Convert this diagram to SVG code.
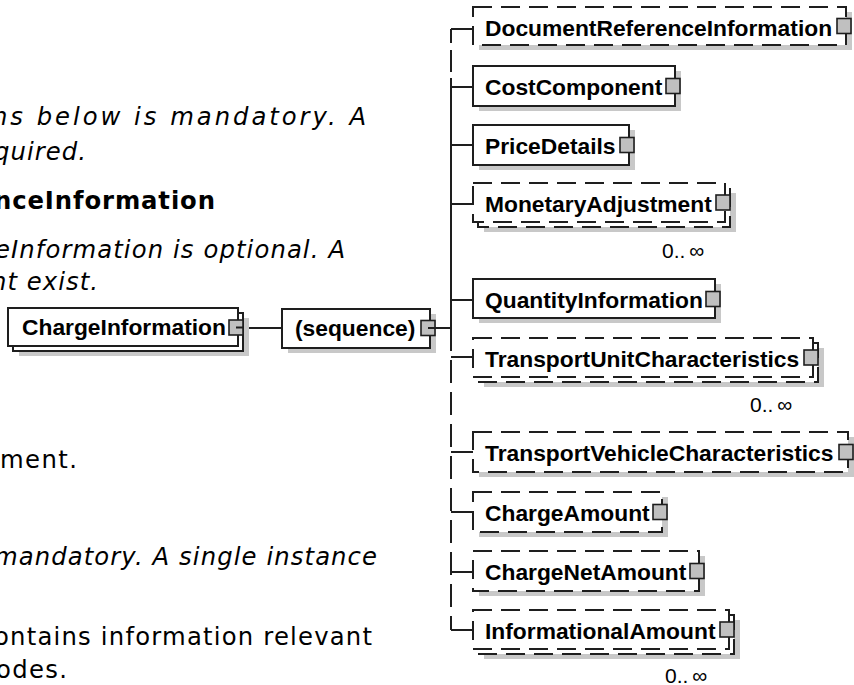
<svg xmlns="http://www.w3.org/2000/svg" width="854" height="685" viewBox="0 0 854 685">
<style>
.bg{fill:#fff}
.box{fill:#fff;stroke:#1e1e1e;stroke-width:2}
.dash{stroke-dasharray:19 9}
.shd{fill:#c8c8c8}
.sq{fill:#c0c0c0;stroke:#1e1e1e;stroke-width:1.6}
.lbl{font-family:"Liberation Sans",Arial,sans-serif;font-weight:bold;font-size:22.8px;fill:#000}
.card{font-family:"Liberation Sans",Arial,sans-serif;font-size:21px;fill:#000}
.body{font-family:"DejaVu Sans",Verdana,sans-serif;font-size:24.3px;fill:#000}
.it{font-style:italic}
.bd{font-weight:bold}
.con{fill:none;stroke:#1e1e1e;stroke-width:2}
</style>
<rect class="bg" x="0" y="0" width="854" height="685"/>
<g id="text">
<text class="body it" x="-8" y="125" textLength="374" lengthAdjust="spacing">ns below is mandatory. A</text>
<text class="body it" x="-6" y="160" textLength="92" lengthAdjust="spacing">quired.</text>
<text class="body bd" x="-6" y="209" textLength="221" lengthAdjust="spacing">nceInformation</text>
<text class="body it" x="-5" y="258" textLength="350" lengthAdjust="spacing">eInformation is optional. A</text>
<text class="body it" x="-9" y="290" textLength="107" lengthAdjust="spacing">nt exist.</text>
<text class="body" x="0" y="468" textLength="77" lengthAdjust="spacing">ment.</text>
<text class="body it" x="-6" y="565" textLength="383" lengthAdjust="spacing">mandatory. A single instance</text>
<text class="body" x="-6" y="645" textLength="378" lengthAdjust="spacing">ontains information relevant</text>
<text class="body" x="-4" y="678" textLength="71" lengthAdjust="spacing">odes.</text>
</g>
<g id="connectors">
<path class="con" d="M236 328H282M428 328H451"/>
<path class="con" d="M451 29V43M451 50V72M451 78V328"/>
<path class="con" d="M451 328V630" stroke-dasharray="23 9"/>
<path class="con" d="M451 29H473M451 87H473M451 145H473M451 204H473M451 300H473M451 357H473M451 452H473M451 512H473M451 572H473M451 630H473"/>
</g>
<g id="ChargeInformation">
<rect class="shd" x="19" y="318" width="230" height="38"/>
<rect class="box" x="13" y="313" width="230" height="38"/>
<rect class="box" x="8" y="308" width="230" height="38"/>
<text class="lbl" x="22" y="335">ChargeInformation</text>
<rect class="sq" x="229" y="320" width="14" height="15"/>
<path class="con" d="M236 327.5H244"/>
</g>
<g id="sequence">
<rect class="shd" x="288" y="314" width="148" height="39"/>
<rect class="box" x="282" y="309" width="148" height="39"/>
<text class="lbl" x="295" y="336">(sequence)</text>
<rect class="sq" x="421" y="320.5" width="14" height="15"/>
<path class="con" d="M428 328H436"/>
</g>
<g id="DocumentReferenceInformation">
<rect class="shd" x="479" y="12" width="373" height="38"/>
<rect class="box dash" x="473" y="7" width="373" height="38"/>
<text class="lbl" x="485" y="36">DocumentReferenceInformation</text>
<rect class="sq" x="837" y="18.5" width="14" height="15"/>
</g>
<g id="CostComponent">
<rect class="shd" x="479" y="71" width="202" height="40"/>
<rect class="box" x="473" y="66" width="202" height="40"/>
<text class="lbl" x="485" y="95">CostComponent</text>
<rect class="sq" x="666" y="78.5" width="14" height="15"/>
</g>
<g id="PriceDetails">
<rect class="shd" x="479" y="130" width="156" height="40"/>
<rect class="box" x="473" y="125" width="156" height="40"/>
<text class="lbl" x="485" y="154">PriceDetails</text>
<rect class="sq" x="620" y="137.5" width="14" height="15"/>
</g>
<g id="MonetaryAdjustment">
<rect class="shd" x="484" y="193" width="252" height="39"/>
<rect class="box dash" x="478" y="188" width="252" height="39"/>
<rect class="box dash" x="473" y="183" width="252" height="39"/>
<text class="lbl" x="485" y="212">MonetaryAdjustment</text>
<rect class="sq" x="716" y="195" width="14" height="15"/>
<text class="card" x="662" y="258">0..<tspan dx="4">∞</tspan></text>
</g>
<g id="QuantityInformation">
<rect class="shd" x="479" y="284" width="242" height="39"/>
<rect class="box" x="473" y="279" width="242" height="39"/>
<text class="lbl" x="485" y="308">QuantityInformation</text>
<rect class="sq" x="706" y="291.5" width="14" height="15"/>
</g>
<g id="TransportUnitCharacteristics">
<rect class="shd" x="484" y="348" width="340" height="39"/>
<rect class="box dash" x="478" y="343" width="340" height="39"/>
<rect class="box dash" x="473" y="338" width="340" height="39"/>
<text class="lbl" x="485" y="367">TransportUnitCharacteristics</text>
<rect class="sq" x="804" y="350" width="14" height="15"/>
<text class="card" x="750" y="412">0..<tspan dx="4">∞</tspan></text>
</g>
<g id="TransportVehicleCharacteristics">
<rect class="shd" x="479" y="437" width="375" height="40"/>
<rect class="box dash" x="473" y="432" width="375" height="40"/>
<text class="lbl" x="485" y="461">TransportVehicleCharacteristics</text>
<rect class="sq" x="839" y="444.5" width="14" height="15"/>
</g>
<g id="ChargeAmount">
<rect class="shd" x="479" y="497" width="189" height="40"/>
<rect class="box dash" x="473" y="492" width="189" height="40"/>
<text class="lbl" x="485" y="521">ChargeAmount</text>
<rect class="sq" x="653" y="504.5" width="14" height="15"/>
</g>
<g id="ChargeNetAmount">
<rect class="shd" x="479" y="556" width="226" height="40"/>
<rect class="box dash" x="473" y="551" width="226" height="40"/>
<text class="lbl" x="485" y="580">ChargeNetAmount</text>
<rect class="sq" x="690" y="563.5" width="14" height="15"/>
</g>
<g id="InformationalAmount">
<rect class="shd" x="484" y="620" width="256" height="39"/>
<rect class="box dash" x="478" y="615" width="256" height="39"/>
<rect class="box dash" x="473" y="610" width="256" height="39"/>
<text class="lbl" x="485" y="639">InformationalAmount</text>
<rect class="sq" x="720" y="622" width="14" height="15"/>
<text class="card" x="665" y="683">0..<tspan dx="4">∞</tspan></text>
</g>
</svg>
